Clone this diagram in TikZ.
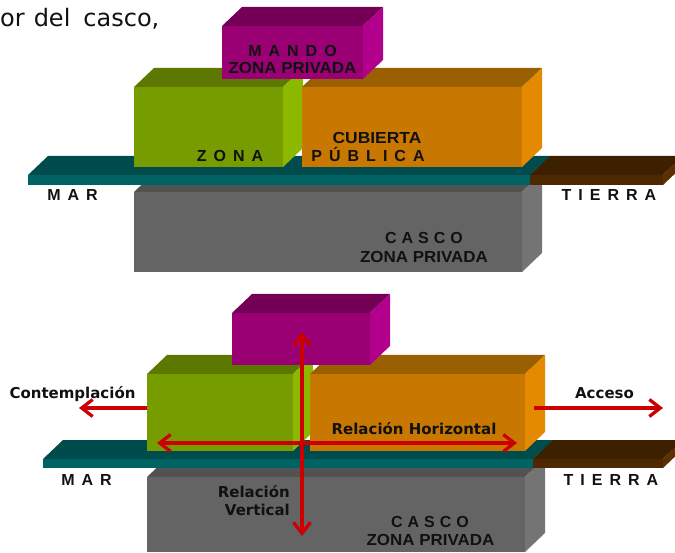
\documentclass[tikz,border=0pt]{standalone}
\usepackage{fontspec}
\setmainfont{Liberation Sans}
\newfontfamily\dejavu{DejaVu Sans}
\usetikzlibrary{arrows.meta}
\definecolor{mandoF}{HTML}{9A0074}
\definecolor{mandoT}{HTML}{740056}
\definecolor{mandoS}{HTML}{B3008C}
\definecolor{greenF}{HTML}{779C00}
\definecolor{greenT}{HTML}{5C7800}
\definecolor{greenS}{HTML}{8CB800}
\definecolor{orangeF}{HTML}{C87700}
\definecolor{orangeT}{HTML}{9A5F00}
\definecolor{orangeS}{HTML}{E38A00}
\definecolor{tealF}{HTML}{006363}
\definecolor{tealT}{HTML}{004C4C}
\definecolor{brownF}{HTML}{4D2800}
\definecolor{brownT}{HTML}{3D2000}
\definecolor{brownS}{HTML}{5C3000}
\definecolor{grayF}{HTML}{646464}
\definecolor{grayT}{HTML}{525252}
\definecolor{grayS}{HTML}{747474}
\definecolor{arrowred}{HTML}{CC0000}
\definecolor{inkc}{HTML}{111111}
\newcommand\gp{\hspace{7pt}}
\newcommand\gq{\hspace{5pt}}
% front top-left (x1,y1), front bottom-right (x2,y2), colours front/top/side
\newcommand\cuboid[7]{%
  \fill[#6] (#1,#2) -- (#1+20,#2-19) -- (#3+20,#2-19) -- (#3,#2) -- cycle;
  \fill[#7] (#3,#2) -- (#3+20,#2-19) -- (#3+20,#4-19) -- (#3,#4) -- cycle;
  \fill[#5] (#1,#2) rectangle (#3,#4);}
\tikzset{
  lbl/.style={inner sep=0pt, anchor=base, text=inkc, font=\fontsize{16}{18}\selectfont\bfseries},
  rlbl/.style={inner sep=0pt, anchor=base, text=inkc, font=\dejavu\fontsize{15}{18}\selectfont\bfseries},
  rel/.style={draw=arrowred, line width=3.3pt, -{Straight Barb[length=11pt,width=17pt]}},
  relboth/.style={draw=arrowred, line width=3.3pt, {Straight Barb[length=11pt,width=17pt]}-{Straight Barb[length=11pt,width=17pt]}}
}
\begin{document}
\begin{tikzpicture}[x=1pt,y=-1pt]
\useasboundingbox (0,0) rectangle (675,553);
\clip (0,0) rectangle (675,553);
% top text
\node[inner sep=0pt, anchor=base west, text=inkc, font=\dejavu\fontsize{24}{28}\selectfont] (intro) at (0,27) {or\hspace{9pt}del\hspace{13pt}casco,};
% ===== upper diagram =====
\cuboid{134}{192}{522}{272}{grayF}{grayT}{grayS}
\cuboid{28}{175}{530}{185}{tealF}{tealT}{tealT}
\cuboid{530}{175}{663}{185}{brownF}{brownT}{brownS}
\cuboid{134}{87}{283}{167}{greenF}{greenT}{greenS}
\cuboid{302}{87}{522}{167}{orangeF}{orangeT}{orangeS}
\cuboid{222}{26}{363}{79}{mandoF}{mandoT}{mandoS}
\node[lbl] (mando) at (292.5,57) {M\gp A\gp N\gp D\gp O};
\node[lbl] (mandozp) at (292.5,74) {\scalebox{1.06}[1]{ZONA PRIVADA}};
\node[lbl] (zona) at (230,162) {Z\gp O\gp N\gp A};
\node[lbl] (cubierta) at (377,144) {\scalebox{1.09}[1]{CUBIERTA}};
\node[lbl] (publica) at (368,162) {P\gp Ú\gp B\gp L\gp I\gp C\gp A};
\node[lbl] (mar) at (72.5,201) {M\gp A\gp R};
\node[lbl] (tierra) at (609,201) {T\gp I\gp E\gp R\gp R\gp A};
\node[lbl] (casco) at (424,244) {C\gq A\gq S\gq C\gq O};
\node[lbl] (cascozp) at (424,263) {\scalebox{1.06}[1]{ZONA PRIVADA}};
% ===== lower diagram =====
\cuboid{147}{477}{525}{552}{grayF}{grayT}{grayS}
\cuboid{43}{459}{533}{468}{tealF}{tealT}{tealT}
\cuboid{533}{459}{663}{468}{brownF}{brownT}{brownS}
\cuboid{147}{374}{293}{451}{greenF}{greenT}{greenS}
\cuboid{310}{374}{525}{451}{orangeF}{orangeT}{orangeS}
\cuboid{232}{313}{370}{365}{mandoF}{mandoT}{mandoS}
\node[lbl] (mar2) at (86.5,485) {M\gp A\gp R};
\node[lbl] (tierra2) at (611,485) {T\gp I\gp E\gp R\gp R\gp A};
\node[lbl] (casco2) at (430,527) {C\gq A\gq S\gq C\gq O};
\node[lbl] (cascozp2) at (430.5,545) {\scalebox{1.06}[1]{ZONA PRIVADA}};
\node[rlbl] (relh) at (414,434) {Relación Horizontal};
\node[rlbl] (contemp) at (72.5,399) {Contemplación};
\node[rlbl] (acceso) at (604.5,399) {Acceso};
\node[rlbl, anchor=base east] (relv1) at (290,497) {Relación};
\node[rlbl, anchor=base east] (relv2) at (290,515) {Vertical};
% arrows
\coordinate (cStart) at (147,408);
\coordinate (cEnd) at (79,408);
\coordinate (aStart) at (534,408);
\coordinate (aEnd) at (663,408);
\coordinate (hL) at (157,443);
\coordinate (hR) at (517,443);
\coordinate (vT) at (302,332);
\coordinate (vB) at (302,536);
\draw[rel] (cStart) -- (cEnd);
\draw[rel] (aStart) -- (aEnd);
\draw[relboth] (hL) -- (hR);
\draw[relboth] (vT) -- (vB);
\end{tikzpicture}
\end{document}
